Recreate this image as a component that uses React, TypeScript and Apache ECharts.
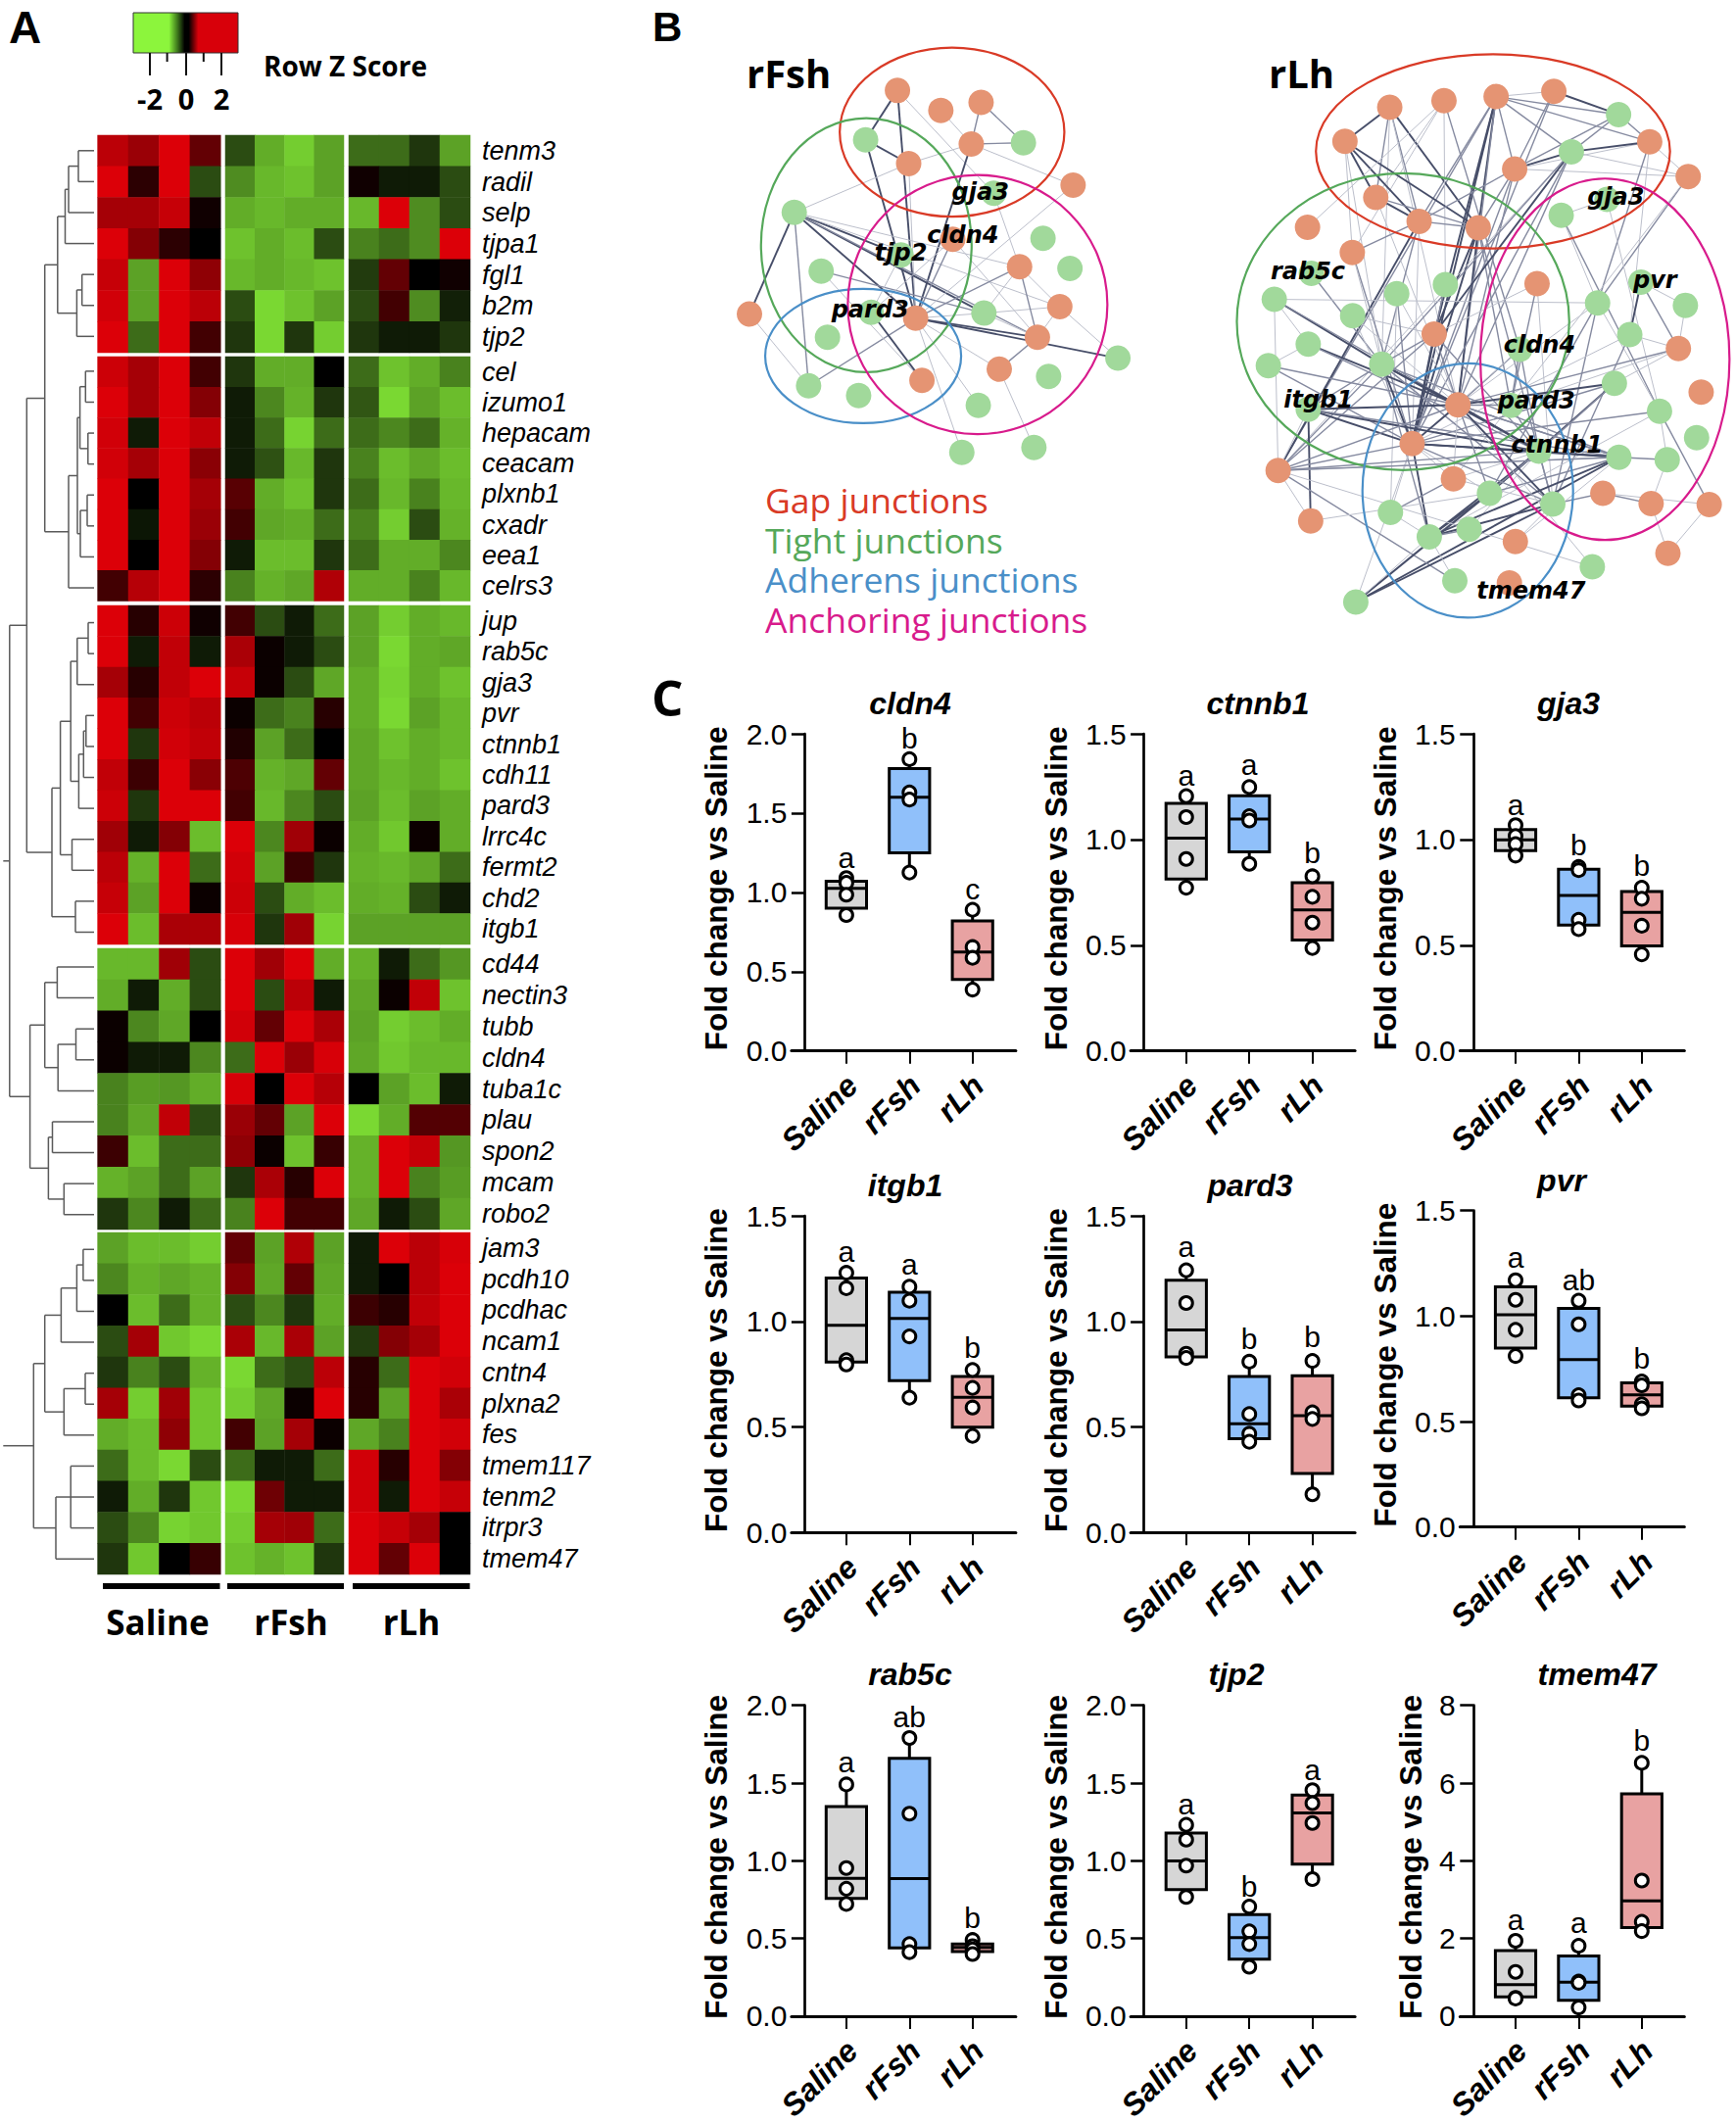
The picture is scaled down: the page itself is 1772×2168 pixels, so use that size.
import React, { useEffect, useRef } from "react";
import * as echarts from "echarts";

// ---------- Panel A data ----------
const geneBlocks = [
  ["tenm3", "radil", "selp", "tjpa1", "fgl1", "b2m", "tjp2"],
  ["cel", "izumo1", "hepacam", "ceacam", "plxnb1", "cxadr", "eea1", "celrs3"],
  ["jup", "rab5c", "gja3", "pvr", "ctnnb1", "cdh11", "pard3", "lrrc4c", "fermt2", "chd2", "itgb1"],
  ["cd44", "nectin3", "tubb", "cldn4", "tuba1c", "plau", "spon2", "mcam", "robo2"],
  ["jam3", "pcdh10", "pcdhac", "ncam1", "cntn4", "plxna2", "fes", "tmem117", "tenm2", "itrpr3", "tmem47"],
];
const zBlock1 = [
  [1.7, 1.4, 2, 0.9, -0.7, -1.6, -1.9, -1.5, -1, -1, -0.5, -1.5],
  [2, 0.4, 2, -0.7, -1.3, -1.7, -1.8, -1.5, 0.15, -0.25, -0.25, -0.7],
  [1.5, 1.5, 1.8, 0.15, -1.6, -1.7, -1.6, -1.6, -1.7, 2, -1.3, -0.7],
  [2, 1.2, 0.4, 0, -1.8, -1.6, -1.75, -0.7, -1.2, -1, -1.3, 2],
  [1.8, -1.5, 2, 1.3, -1.7, -1.6, -1.7, -1.8, -0.55, 0.9, 0, 0.15],
  [1.9, -1.5, 2, 1.7, -0.7, -2, -1.8, -1.5, -0.7, 0.6, -1.3, -0.3],
  [2, -1, 2, 0.6, -0.5, -2, -0.5, -1.9, -0.5, -0.25, -0.25, -0.5],
];
const zBlock2 = [
  [1.85, 1.5, 2, 0.6, -0.5, -1.6, -1.6, 0, -1, -1.8, -1.6, -1.2],
  [2, 1.5, 2, 1.2, -0.25, -1.25, -1.65, -0.5, -0.8, -2, -1.5, -1.75],
  [1.9, -0.25, 2, 1.75, -0.25, -1, -1.95, -1, -1, -1.25, -1, -1.65],
  [1.9, 1.5, 2, 1.25, -0.25, -0.75, -1.7, -0.5, -1.2, -1.75, -1.55, -1.75],
  [2, 0, 2, 1.5, 0.8, -1.6, -1.8, -0.5, -1, -1.7, -1.2, -1.7],
  [2, -0.2, 2, 1.4, 0.6, -1.55, -1.6, -1, -1.2, -1.9, -0.7, -1.65],
  [2, 0, 2, 1.2, -0.25, -1.75, -1.75, -0.5, -1, -1.6, -1.6, -1.25],
  [0.6, 1.65, 2, 0.4, -1.2, -1.65, -1.55, 1.6, -1.6, -1.6, -1.2, -1.7],
];
const zBlock3 = [
  [2, 0.35, 1.85, 0.15, 0.6, -0.7, -0.25, -1, -1.5, -1.9, -1.6, -1.7],
  [2, -0.25, 1.75, -0.25, 1.55, 0.1, -0.25, -0.7, -1.5, -2, -1.6, -1.55],
  [1.5, 0.35, 1.75, 2, 1.8, 0.1, -0.7, -1.55, -1.6, -1.95, -1.6, -1.8],
  [2, 0.6, 1.85, 1.7, 0.1, -1, -1.2, 0.35, -1.6, -2, -1.5, -1.7],
  [2, -0.5, 1.9, 1.75, 0.3, -1.5, -1, 0, -1.55, -1.8, -1.6, -1.7],
  [1.75, 0.55, 2, 1.25, 0.7, -1.65, -1.55, 0.9, -1.55, -1.7, -1.6, -1.8],
  [1.85, -0.5, 2, 2, 0.6, -1.7, -1.25, -0.7, -1.5, -1.75, -1.5, -1.6],
  [1.45, -0.25, 1.2, -1.75, 2, -1.25, 1.45, 0.1, -1.6, -1.85, 0.1, -1.6],
  [1.7, -1.65, 2, -1, 1.9, -1.5, 0.55, -0.5, -1.65, -1.7, -1.55, -1],
  [1.8, -1.5, 2, 0.1, 1.85, -0.7, -1.6, -1.75, -1.6, -1.65, -0.7, -0.25],
  [2, -1.75, 1.55, 1.55, 1.95, -0.5, 1.45, -1.95, -1.5, -1.5, -1.5, -1.5],
];
const zBlock4 = [
  [-1.7, -1.7, 1.45, -0.7, 2, 1.45, 2, -1.6, -1.65, -0.25, -1, -1.4],
  [-1.6, -0.25, -1.6, -0.7, 2, -0.7, 1.7, -0.25, -1.55, 0.1, 1.75, -1.8],
  [0.1, -1.25, -1.55, 0, 1.9, 0.9, 2, 1.55, -1.5, -1.9, -1.75, -1.6],
  [0.1, -0.25, -0.25, -1.25, -1, 2, 1.4, 1.95, -1.55, -1.85, -1.7, -1.7],
  [-1.2, -1.45, -1.4, -1.6, 1.95, 0, 2, 1.65, 0, -1.5, -1.75, -0.25],
  [-1.2, -1.55, 1.75, -0.7, 1.4, 0.9, -1.5, 2, -2, -1.6, 0.75, 0.75],
  [0.55, -1.75, -1, -1, 1.3, 0.1, -1.8, 0.5, -1.65, 2, 1.8, -1.4],
  [-1.65, -1.5, -1, -1.5, -0.5, 1.55, 0.35, 2, -1.65, 2, -1.2, -1.45],
  [-0.5, -1.25, -0.25, -1, -1.2, 2, 0.6, 0.6, -1.55, -0.25, -0.7, -1.55],
];
const zBlock5 = [
  [-1.5, -1.75, -1.75, -1.9, 0.9, -1.5, 1.6, -1.5, -0.25, 2, 1.7, 1.95],
  [-1.25, -1.65, -1.55, -1.65, 1.2, -1.55, 0.9, -1.55, -0.25, 0, 1.7, 2],
  [0, -1.75, -1, -1.65, -0.7, -1.25, -0.5, -1.6, 0.55, 0.35, 1.75, 2],
  [-0.7, 1.5, -1.85, -2, 1.55, -1.7, 1.55, -1.5, -0.55, 1.2, 1.5, 2],
  [-0.5, -1.2, -0.7, -1.65, -2, -1, -0.7, 1.7, 0.35, -1, 2, 1.9],
  [1.5, -1.9, 1.45, -1.85, -1.9, -1.55, 0.1, 2, 0.35, -1.5, 2, 1.55],
  [-1.6, -1.75, 1.3, -1.85, 0.6, -1.5, 1.5, 0.1, -1.55, -1.2, 2, 1.9],
  [-1, -1.75, -2, -0.7, -1, -0.25, -0.25, -1, 1.9, 0.35, 2, 1.2],
  [-0.25, -1.6, -0.5, -1.85, -2, 1, -0.25, -0.25, 1.9, -0.25, 2, 1.8],
  [-0.7, -1.25, -1.95, -1.85, -1.9, 1.5, 1.45, -1, 2, 1.8, 1.5, 0],
  [-0.5, -1.85, 0, 0.5, -1.8, -1.65, -1.8, -0.5, 2, 0.9, 2, 0],
];
const zBlocks = [zBlock1, zBlock2, zBlock3, zBlock4, zBlock5];

// dendrogram: [merge depth, child, child...]; a number child is a row index
const tree1: any = [58.8, [66.5, [70, [80, 0, 1], 2], 3], [78.4, [83.7, 4, 5], 6]];
const tree2: any = [70, [79, [81.6, [87.3, 7, 8], [89.8, 9, 10]], [82, [89, 11, 12], 13]], 14];
const tree3: any = [53, [61.6, [72.2, [78.8, [90, 15, 16], 17], [80.4, [85.3, [87.8, 18, 19], 20], 21]], [73.5, 22, 23]], [77, 24, 25]];
const tree4: any = [30.6, [45.7, [58.4, 26, 27], [59.2, [77.5, 28, 29], 30]], [49.4, [53.5, 31, 32], [65.3, 33, 34]]];
const tree5: any = [34.3, [45.7, [62.4, [78.4, [84.9, 35, 36], 37], 38], [65.3, [87, 39, 40], 41]], [57, [72.2, 42, 43, 44], 45]];
const treeTop: any = [9.8, [27.3, [45.7, tree1, tree2], tree3], tree4];
const rootDepth = 3.3;
const leafDepth = 96;

// ---------- Panel B data ----------
const rFshOrange = [[745, 213], [869, 260], [984, 241], [956, 339], [777, 385], [1247, 436], [903, 563], [1094, 628], [1209, 722], [797, 749], [1145, 794], [1036, 869], [815, 895], [322, 739]];
const rFshGreen = [[1105, 336], [654, 329], [450, 500], [1020, 455], [1161, 561], [1238, 632], [527, 638], [755, 600], [670, 735], [992, 737], [545, 794], [491, 908], [634, 931], [976, 954], [1177, 886], [1375, 843], [929, 1065], [1135, 1053]];
const rFshEdges = [
  [0, 15, 3], [0, 9, 3], [0, 17, 1], [15, 4, 3], [15, 9, 3], [4, 3, 1], [4, 9, 1], [1, 3, 1], [2, 3, 2], [2, 14, 2], [3, 14, 2], [3, 5, 1], [3, 9, 3],
  [16, 4, 1], [16, 9, 3], [16, 21, 3], [16, 23, 3], [16, 10, 2], [16, 8, 1], [16, 7, 1], [16, 13, 3], [16, 25, 2], [13, 25, 1], [25, 9, 2], [20, 23, 2], [20, 12, 1],
  [22, 12, 3], [21, 22, 1], [6, 22, 1], [6, 9, 2], [6, 10, 1], [5, 9, 1], [9, 7, 2], [9, 10, 3], [9, 29, 3], [9, 23, 1], [23, 8, 1], [23, 10, 1], [7, 10, 2], [7, 8, 1],
  [8, 10, 1], [8, 29, 1], [10, 11, 2], [11, 31, 1], [9, 30, 1], [9, 27, 1], [9, 11, 1], [17, 7, 1], [7, 23, 1],
];
const rFshEllipses = [[901, 311, 321, 199], [656, 577, 301, 299], [647, 838, 280, 158], [974, 717, 371, 305]];
const rFshLabels: any[] = [["gja3", 982, 452], ["cldn4", 932, 553], ["tjp2", 755, 594], ["pard3", 667, 729]];

const rLhOrange = [[584, 195], [739, 178], [888, 168], [1053, 155], [456, 280], [1327, 281], [941, 349], [1437, 368], [544, 420], [668, 480], [837, 496], [349, 495], [477, 558], [1005, 636], [711, 762], [1409, 798], [779, 939], [1474, 907], [648, 1036], [265, 1103], [766, 1124], [1193, 1160], [1331, 1186], [1497, 1188], [358, 1229], [943, 1281], [1379, 1310], [926, 1384]];
const rLhGreen = [[1238, 213], [1103, 306], [1074, 465], [1205, 425], [360, 610], [254, 675], [478, 716], [604, 661], [743, 638], [1178, 684], [1302, 632], [1429, 690], [1270, 763], [351, 787], [237, 841], [561, 837], [956, 800], [1226, 885], [1355, 955], [351, 950], [930, 940], [1461, 1021], [1010, 1055], [1239, 1070], [1377, 1076], [869, 1160], [1050, 1187], [586, 1208], [811, 1250], [697, 1269], [1163, 1344], [770, 1379], [487, 1432]];
const rLhEdges = [
  [2, 3, 1], [2, 28, 2], [2, 5, 2], [2, 29, 2], [2, 6, 2], [2, 10, 3], [2, 9, 2], [2, 14, 3], [2, 18, 3], [2, 16, 2], [2, 19, 2], [3, 28, 3], [3, 6, 2], [3, 18, 2],
  [0, 4, 3], [0, 8, 2], [0, 10, 3], [0, 9, 2], [0, 16, 1], [0, 43, 1], [1, 12, 1], [1, 8, 1], [1, 44, 2], [1, 36, 1], [4, 8, 3], [4, 9, 3], [4, 10, 3], [4, 12, 1], [4, 43, 1],
  [8, 9, 3], [8, 10, 2], [8, 16, 1], [9, 10, 2], [9, 6, 2], [9, 12, 2], [9, 19, 3], [9, 43, 2], [9, 18, 1], [10, 6, 2], [10, 14, 3], [10, 18, 3], [10, 16, 3], [10, 48, 2], [10, 54, 2],
  [6, 29, 3], [6, 28, 2], [6, 5, 1], [6, 7, 1], [6, 16, 2], [6, 18, 2], [29, 28, 2], [29, 5, 3], [29, 7, 1], [29, 14, 3], [29, 18, 2], [29, 16, 2], [29, 19, 1], [29, 43, 2],
  [5, 7, 1], [5, 28, 2], [5, 40, 1], [5, 37, 2], [7, 37, 2], [7, 20, 1], [30, 31, 1], [30, 37, 1], [30, 46, 2], [31, 46, 1], [11, 1, 1], [12, 18, 2], [12, 43, 1],
  [32, 43, 2], [33, 43, 3], [33, 37, 1], [33, 19, 1], [33, 16, 2], [33, 41, 1], [34, 16, 1], [34, 14, 1], [34, 18, 1], [35, 18, 2], [35, 16, 1], [35, 55, 1], [36, 18, 3], [36, 14, 2],
  [37, 53, 2], [37, 54, 2], [37, 46, 1], [37, 16, 1], [38, 40, 3], [38, 39, 1], [38, 15, 2], [39, 15, 1], [40, 18, 1], [40, 54, 2], [40, 15, 1], [41, 42, 1], [41, 16, 3], [41, 50, 2], [42, 16, 2], [42, 18, 2],
  [43, 14, 2], [43, 16, 3], [43, 18, 3], [43, 50, 3], [43, 19, 2], [43, 47, 2], [43, 54, 2], [43, 57, 2], [43, 51, 2], [14, 13, 1], [14, 16, 2], [14, 18, 3], [14, 50, 2], [14, 19, 2],
  [13, 48, 2], [13, 54, 1], [15, 16, 2], [15, 45, 1], [15, 48, 1], [44, 50, 2], [44, 48, 2], [44, 16, 2], [44, 18, 1], [45, 16, 3], [45, 18, 2], [45, 53, 3], [45, 50, 2],
  [46, 18, 2], [46, 57, 1], [46, 52, 1], [46, 23, 2], [47, 16, 3], [47, 18, 3], [47, 50, 3], [47, 24, 3], [47, 51, 2], [47, 19, 1], [48, 50, 2], [48, 16, 2],
  [50, 18, 3], [50, 16, 3], [50, 53, 3], [50, 54, 2], [50, 57, 3], [50, 60, 2], [50, 56, 1], [50, 20, 1], [50, 51, 3], [51, 52, 2], [51, 18, 3], [51, 16, 2], [51, 57, 3], [51, 60, 3], [51, 53, 2], [51, 19, 1],
  [16, 18, 3], [16, 19, 2], [16, 20, 1], [16, 54, 3], [16, 53, 2], [16, 51, 2], [18, 19, 2], [18, 57, 3], [18, 20, 1], [18, 54, 2], [18, 53, 1], [18, 55, 1], [18, 60, 1],
  [19, 24, 1], [19, 51, 2], [19, 59, 2], [19, 50, 2], [20, 55, 2], [20, 54, 1], [53, 57, 3], [53, 60, 3], [54, 60, 3], [54, 57, 3], [54, 25, 1], [54, 21, 2], [21, 22, 2], [21, 23, 1],
  [22, 52, 1], [22, 26, 1], [23, 26, 1], [24, 53, 1], [25, 51, 1], [55, 57, 1], [56, 57, 2], [57, 59, 1], [57, 60, 1], [58, 16, 1], [58, 19, 1],
];
const rLhEllipses = [[879, 305, 506, 243], [622, 731, 475, 371], [807, 1153, 301, 318], [1199, 825, 356, 452]];
const rLhLabels: any[] = [["gja3", 1230, 420], ["rab5c", 350, 605], ["pvr", 1342, 628], ["cldn4", 1012, 788], ["itgb1", 380, 925], ["pard3", 1003, 928], ["ctnnb1", 1062, 1040], ["tmem47", 988, 1405]];
const legendNames = ["Gap junctions", "Tight junctions", "Adherens junctions", "Anchoring junctions"];
const junctionColors = ["#d93a26", "#55a85a", "#4a8fc8", "#d81b8c"];

// ---------- Panel C data: [min, q1, median, q3, max] per group, points per group, letters ----------
const groups = ["Saline", "rFsh", "rLh"];
const cldn4Box = [[0.857, 0.9, 1.025, 1.07, 1.09], [1.125, 1.25, 1.6, 1.78, 1.84], [0.387, 0.45, 0.624, 0.82, 0.89]];
const cldn4Pts = [[1.09, 1.06, 0.985, 0.857], [1.84, 1.63, 1.585, 1.125], [0.89, 0.655, 0.587, 0.387]];
const cldn4Let: any[] = [["a", 1.217], ["b", 1.97], ["c", 1.02]];
const ctnnb1Box = [[0.772, 0.813, 1.006, 1.171, 1.205], [0.885, 0.942, 1.097, 1.207, 1.248], [0.487, 0.525, 0.667, 0.796, 0.826]];
const ctnnb1Pts = [[1.205, 1.106, 0.908, 0.772], [1.248, 1.11, 1.09, 0.885], [0.826, 0.729, 0.607, 0.487]];
const ctnnb1Let: any[] = [["a", 1.305], ["a", 1.353], ["b", 0.936]];
const gja3Box = [[0.924, 0.947, 0.998, 1.047, 1.068], [0.576, 0.595, 0.735, 0.859, 0.87], [0.457, 0.497, 0.655, 0.754, 0.772]];
const gja3Pts = [[1.068, 1.017, 0.978, 0.924], [0.87, 0.855, 0.62, 0.576], [0.772, 0.72, 0.592, 0.457]];
const gja3Let: any[] = [["a", 1.166], ["b", 0.973], ["b", 0.877]];
const itgb1Box = [[0.796, 0.807, 0.982, 1.205, 1.23], [0.639, 0.719, 1.014, 1.138, 1.164], [0.458, 0.499, 0.64, 0.739, 0.77]];
const itgb1Pts = [[1.23, 1.157, 0.816, 0.796], [1.164, 1.098, 0.929, 0.639], [0.77, 0.685, 0.592, 0.458]];
const itgb1Let: any[] = [["a", 1.331], ["a", 1.27], ["b", 0.874]];
const pard3Box = [[0.827, 0.832, 0.96, 1.195, 1.242], [0.43, 0.445, 0.515, 0.739, 0.809], [0.181, 0.28, 0.554, 0.742, 0.813]];
const pard3Pts = [[1.242, 1.087, 0.847, 0.827], [0.809, 0.561, 0.468, 0.43], [0.813, 0.569, 0.538, 0.181]];
const pard3Let: any[] = [["a", 1.353], ["b", 0.917], ["b", 0.925]];
const pvrBox = [[0.811, 0.848, 1.006, 1.139, 1.17], [0.6, 0.613, 0.794, 1.037, 1.073], [0.563, 0.573, 0.627, 0.684, 0.69]];
const pvrPts = [[1.17, 1.077, 0.935, 0.811], [1.073, 0.961, 0.625, 0.6], [0.69, 0.672, 0.582, 0.563]];
const pvrLet: any[] = [["a", 1.279], ["ab", 1.173], ["b", 0.802]];
const rab5cBox = [[0.722, 0.757, 0.887, 1.348, 1.491], [0.412, 0.439, 0.885, 1.66, 1.79], [0.4, 0.416, 0.443, 0.464, 0.49]];
const rab5cPts = [[1.491, 0.953, 0.82, 0.722], [1.79, 1.303, 0.464, 0.412], [0.49, 0.45, 0.43, 0.4]];
const rab5cLet: any[] = [["a", 1.633], ["ab", 1.928], ["b", 0.635]];
const tjp2Box = [[0.767, 0.814, 0.998, 1.179, 1.231], [0.318, 0.367, 0.505, 0.654, 0.705], [0.882, 0.979, 1.307, 1.423, 1.454]];
const tjp2Pts = [[1.231, 1.136, 0.969, 0.767], [0.705, 0.546, 0.464, 0.318], [1.454, 1.371, 1.243, 0.882]];
const tjp2Let: any[] = [["a", 1.365], ["b", 0.835], ["a", 1.588]];
const tmem47Box = [[0.454, 0.495, 0.808, 1.69, 1.94], [0.223, 0.41, 0.874, 1.55, 1.81], [2.19, 2.28, 2.97, 5.72, 6.52]];
const tmem47Pts = [[1.94, 1.138, 0.47, 0.454], [1.81, 0.89, 0.86, 0.223], [6.52, 3.49, 2.43, 2.19]];
const tmem47Let: any[] = [["a", 2.47], ["a", 2.41], ["b", 7.09]];

const panels = [
  { gene: "cldn4", box: cldn4Box, pts: cldn4Pts, letters: cldn4Let, max: 2, step: 0.5 },
  { gene: "ctnnb1", box: ctnnb1Box, pts: ctnnb1Pts, letters: ctnnb1Let, max: 1.5, step: 0.5 },
  { gene: "gja3", box: gja3Box, pts: gja3Pts, letters: gja3Let, max: 1.5, step: 0.5 },
  { gene: "itgb1", box: itgb1Box, pts: itgb1Pts, letters: itgb1Let, max: 1.5, step: 0.5 },
  { gene: "pard3", box: pard3Box, pts: pard3Pts, letters: pard3Let, max: 1.5, step: 0.5 },
  { gene: "pvr", box: pvrBox, pts: pvrPts, letters: pvrLet, max: 1.5, step: 0.5 },
  { gene: "rab5c", box: rab5cBox, pts: rab5cPts, letters: rab5cLet, max: 2, step: 0.5 },
  { gene: "tjp2", box: tjp2Box, pts: tjp2Pts, letters: tjp2Let, max: 2, step: 0.5 },
  { gene: "tmem47", box: tmem47Box, pts: tmem47Pts, letters: tmem47Let, max: 8, step: 2 },
];

// ---------- Layout ----------
const W = 1772, H = 2168;
const blockEdges = [[138, 360], [364, 613.5], [618, 964], [968, 1255], [1258, 1607]];
const colEdges = [[99.6, 225.3], [230, 351], [356, 480]];
const plotAxisX = [821.4, 1167.6, 1503.8];
const plotCatX = [863.9, 1210.8, 1547];
const plotTB = [[749, 1072.7], [749, 1072.7], [749, 1072.7], [1241, 1564.3], [1241, 1564.3], [1235.7, 1558.7], [1740.7, 2063.3], [1740.7, 2063.3], [1740.7, 2063.3]];
const titlePos = [[929, 718], [1284, 718], [1601, 718], [924, 1210], [1276, 1210], [1594, 1205], [929, 1709], [1262, 1709], [1630, 1709]];
const boxFills = ["#d6d6d6", "#90c0fa", "#e8a2a2"];
const ARIAL = '"Liberation Sans"';
const SANS = '"Open Sans"';

function buildDendrogram() {
  const segs: number[][] = [];
  const gapAt = [7, 15, 26, 35];
  const rowY = (i: number) => i + 0.5 + 0.125 * gapAt.filter((g) => i >= g).length;
  const walk = (n: any): { d: number; y: number } => {
    if (typeof n === "number") return { d: leafDepth, y: rowY(n) };
    const kids = n.slice(1).map(walk);
    const ys = kids.map((k: any) => k.y);
    const a = Math.min(...ys), b = Math.max(...ys);
    kids.forEach((k: any) => segs.push([n[0], k.y, k.d, k.y]));
    segs.push([n[0], a, n[0], b]);
    return { d: n[0], y: (a + b) / 2 };
  };
  [treeTop, tree5].forEach((t) => {
    const r = walk(t);
    segs.push([rootDepth, r.y, r.d, r.y]);
  });
  return segs;
}

function buildOption() {
  const grid: any[] = [], xAxis: any[] = [], yAxis: any[] = [], series: any[] = [];
  const heatIdx: number[] = [];

  // ---- heatmap blocks ----
  zBlocks.forEach((rows, b) => {
    colEdges.forEach((ce, c) => {
      const gi = grid.length;
      grid.push({ left: ce[0], width: ce[1] - ce[0], top: blockEdges[b][0], height: blockEdges[b][1] - blockEdges[b][0] });
      xAxis.push({ gridIndex: gi, type: "category", show: false, data: [0, 1, 2, 3] });
      yAxis.push(c === 2
        ? {
            gridIndex: gi, type: "category", inverse: true, position: "right", data: geneBlocks[b],
            axisLine: { show: false }, axisTick: { show: false }, splitLine: { show: false },
            axisLabel: { show: true, interval: 0, margin: 12, color: "#000", fontStyle: "italic", fontFamily: ARIAL, fontSize: 27, lineHeight: 27 },
          }
        : { gridIndex: gi, type: "category", inverse: true, show: false, data: geneBlocks[b] });
      const data: number[][] = [];
      rows.forEach((r, ri) => { for (let k = 0; k < 4; k++) data.push([k, ri, r[c * 4 + k]]); });
      heatIdx.push(series.length);
      series.push({ type: "heatmap", xAxisIndex: gi, yAxisIndex: gi, data, silent: true, progressive: 0 });
    });
  });

  // ---- dendrogram ----
  {
    const gi = grid.length;
    grid.push({ left: 0, width: 96, top: 138, height: 1607 - 138 });
    xAxis.push({ gridIndex: gi, type: "value", show: false, min: 0, max: 96 });
    yAxis.push({ gridIndex: gi, type: "value", show: false, inverse: true, min: 0, max: 46.5 });
    series.push({
      type: "custom", xAxisIndex: gi, yAxisIndex: gi, silent: true, clip: false, data: buildDendrogram(),
      encode: { x: [0, 2], y: [1, 3] },
      renderItem: (_p: any, api: any) => {
        const a = api.coord([api.value(0), api.value(1)]);
        const b = api.coord([api.value(2), api.value(3)]);
        return { type: "line", shape: { x1: a[0], y1: a[1], x2: b[0], y2: b[1] }, style: { stroke: "#5a5a5a", lineWidth: 1.5, fill: "none" } };
      },
    });
  }

  // ---- networks ----
  const edgeStyle = [null,
    { color: "#bcbfcb", width: 1, opacity: 1 },
    { color: "#858aa0", width: 1.4, opacity: 1 },
    { color: "#474e69", width: 1.9, opacity: 1 }];
  const network = (box: number[], orange: number[][], green: number[][], edges: number[][], ellipses: number[][], labels: any[]) => {
    const gi = grid.length;
    grid.push({ left: box[0], top: box[1], width: box[2], height: box[3] });
    xAxis.push({ gridIndex: gi, type: "value", show: false, min: 0, max: 1568 });
    yAxis.push({ gridIndex: gi, type: "value", show: false, inverse: true, min: 0, max: 1568 });
    const nodes = [
      ...orange.map((p, i) => ({ name: "o" + i, value: p, itemStyle: { color: "#e59473" } })),
      ...green.map((p, i) => ({ name: "g" + i, value: p, itemStyle: { color: "#a1d99b" } })),
    ];
    series.push({
      type: "graph", coordinateSystem: "cartesian2d", xAxisIndex: gi, yAxisIndex: gi, layout: "none", silent: true,
      symbol: "circle", symbolSize: 26, data: nodes, label: { show: false },
      links: edges.map((e) => ({ source: e[0], target: e[1], lineStyle: edgeStyle[e[2]] })),
    });
    series.push({
      type: "custom", xAxisIndex: gi, yAxisIndex: gi, silent: true, clip: false, data: ellipses, encode: { x: 0, y: 1 },
      renderItem: (p: any, api: any) => {
        const c = api.coord([api.value(0), api.value(1)]);
        const s = api.size([api.value(2), api.value(3)]);
        return { type: "ellipse", shape: { cx: c[0], cy: c[1], rx: s[0], ry: s[1] }, style: { fill: "none", stroke: junctionColors[p.dataIndex], lineWidth: 2.2 } };
      },
    });
    series.push({
      type: "scatter", xAxisIndex: gi, yAxisIndex: gi, silent: true, symbolSize: 1, itemStyle: { color: "transparent", opacity: 1 }, z: 5,
      data: labels.map((l) => ({ name: l[0], value: [l[1], l[2]] })),
      label: {
        show: true, position: "inside", formatter: "{b}", color: "#000", opacity: 1, textBorderWidth: 0, textBorderColor: "transparent",
        fontFamily: '"DejaVu Sans"', fontWeight: "bold", fontStyle: "italic", fontSize: 24,
      },
    });
  };
  network([650, 0, 560, 680], rFshOrange, rFshGreen, rFshEdges, rFshEllipses, rFshLabels);
  network([1210, 30, 560, 640], rLhOrange, rLhGreen, rLhEdges, rLhEllipses, rLhLabels);

  // ---- box plots ----
  const graphics: any[] = [];
  const spacing = 64.4;
  panels.forEach((p, i) => {
    const gi = grid.length;
    const axX = plotAxisX[i % 3], cat0 = plotCatX[i % 3];
    const [top, bottom] = plotTB[i];
    const left = axX - 13.5, width = 229;
    grid.push({ left, top, width, height: bottom - top });
    xAxis.push({
      gridIndex: gi, type: "value", min: -(cat0 - left) / spacing, max: (left + width - cat0) / spacing,
      axisLine: { show: true, onZero: false, lineStyle: { color: "#000", width: 3 } },
      splitLine: { show: false },
      axisTick: { show: true, length: 13, customValues: [0, 1, 2], lineStyle: { color: "#000", width: 2 } },
      axisLabel: {
        show: true, customValues: [0.09, 1.09, 2.09], rotate: 45, margin: 30, color: "#000", fontFamily: ARIAL, fontWeight: "bold", fontStyle: "italic", fontSize: 32,
        formatter: (v: number) => groups[Math.round(v)],
      },
    });
    yAxis.push({
      gridIndex: gi, type: "value", min: 0, max: p.max, interval: p.step, offset: -13.5,
      name: "Fold change vs Saline", nameLocation: "middle", nameRotate: 90, nameGap: p.gene === "tmem47" ? 48 : 74,
      nameTextStyle: { color: "#000", fontFamily: ARIAL, fontWeight: "bold", fontSize: 31.5, padding: [0, 0, 0, 8] },
      axisLine: { show: true, onZero: false, lineStyle: { color: "#000", width: 2.7 } },
      splitLine: { show: false },
      axisTick: { show: true, length: 13.5, lineStyle: { color: "#000", width: 2.5 } },
      axisLabel: { color: "#000", margin: 18, fontFamily: ARIAL, fontSize: 30, formatter: (v: number) => (p.step === 2 ? String(v) : v.toFixed(1)) },
    });
    series.push({
      type: "custom", xAxisIndex: gi, yAxisIndex: gi, silent: true, clip: false,
      data: p.box.map((b, k) => [k, ...b]), encode: { x: 0, y: [1, 2, 3, 4, 5] },
      renderItem: (q: any, api: any) => {
        const x = api.value(0);
        const c = (xx: number, v: number) => api.coord([xx, v]);
        const hw = 0.32;
        const l = c(x - hw, api.value(4)), r = c(x + hw, api.value(2));
        const lo = c(x, api.value(1)), q1 = c(x, api.value(2)), m = c(x, api.value(3)), q3 = c(x, api.value(4)), hi = c(x, api.value(5));
        const st = { stroke: "#000", lineWidth: 3, fill: "none" };
        return {
          type: "group",
          children: [
            { type: "line", shape: { x1: hi[0], y1: hi[1], x2: q3[0], y2: q3[1] }, style: st },
            { type: "line", shape: { x1: lo[0], y1: lo[1], x2: q1[0], y2: q1[1] }, style: st },
            { type: "rect", shape: { x: l[0], y: l[1], width: r[0] - l[0], height: r[1] - l[1] }, style: { stroke: "#000", lineWidth: 3, fill: boxFills[q.dataIndex] } },
            { type: "line", shape: { x1: l[0], y1: m[1], x2: r[0], y2: m[1] }, style: st },
          ],
        };
      },
    });
    series.push({
      type: "scatter", xAxisIndex: gi, yAxisIndex: gi, silent: true, symbol: "circle", symbolSize: 13,
      itemStyle: { color: "#fff", borderColor: "#000", borderWidth: 3, opacity: 1 },
      data: p.pts.flatMap((arr, k) => arr.map((v) => [k, v])),
    });
    series.push({
      type: "scatter", xAxisIndex: gi, yAxisIndex: gi, silent: true, symbolSize: 1, itemStyle: { color: "transparent", opacity: 1 },
      data: p.letters.map((l, k) => ({ name: l[0], value: [k, l[1]] })),
      label: { show: true, position: "inside", formatter: "{b}", color: "#000", opacity: 1, textBorderWidth: 0, textBorderColor: "transparent", fontFamily: ARIAL, fontSize: 30 },
    });
    graphics.push({
      type: "text", x: titlePos[i][0], y: titlePos[i][1],
      style: { text: p.gene, fill: "#000", font: `italic bold 32px ${ARIAL}`, textAlign: "center", textVerticalAlign: "middle" },
    });
  });

  // ---- texts and key ----
  const txt = (text: string, x: number, y: number, font: string, fill = "#000", textAlign = "left") => ({
    type: "text", x, y, style: { text, font, fill, textAlign, textVerticalAlign: "middle" },
  });
  graphics.push(
    txt("A", 9, 28, `bold 46px ${ARIAL}`),
    txt("B", 666, 27, `bold 42px ${ARIAL}`),
    txt("C", 665, 711, `bold 51px ${SANS}`),
    {
      type: "rect", shape: { x: 136, y: 13, width: 107, height: 41 },
      style: {
        stroke: "#333", lineWidth: 1,
        fill: new (echarts as any).graphic.LinearGradient(0, 0, 1, 0, [
          { offset: 0, color: "#8cf53c" }, { offset: 0.34, color: "#8cf53c" }, { offset: 0.42, color: "#3f7a1c" },
          { offset: 0.49, color: "#000" }, { offset: 0.53, color: "#000" }, { offset: 0.62, color: "#d8000a" }, { offset: 1, color: "#d8000a" },
        ]),
      },
    },
    ...[[153, 77], [170.6, 63], [190, 77], [207.8, 63], [226, 77]].map((t) => ({
      type: "line", shape: { x1: t[0], y1: 54, x2: t[0], y2: t[1] }, style: { stroke: "#111", lineWidth: 2 },
    })),
    txt("-2", 153, 100, `bold 29px ${SANS}`, "#000", "center"),
    txt("0", 190, 100, `bold 29px ${SANS}`, "#000", "center"),
    txt("2", 226, 100, `bold 29px ${SANS}`, "#000", "center"),
    txt("Row Z Score", 269, 67, `bold 28px ${SANS}`),
    ...[[105, 224.5], [232, 351], [360, 479.6]].map((b) => ({
      type: "rect", shape: { x: b[0], y: 1616, width: b[1] - b[0], height: 6 }, style: { fill: "#000" },
    })),
    txt("Saline", 161, 1655, `bold 35px ${SANS}`, "#000", "center"),
    txt("rFsh", 297, 1655, `bold 35px ${SANS}`, "#000", "center"),
    txt("rLh", 420, 1655, `bold 35px ${SANS}`, "#000", "center"),
    txt("rFsh", 762, 74, `bold 40px ${SANS}`),
    txt("rLh", 1295, 74, `bold 40px ${SANS}`),
    ...legendNames.map((n, i) => txt(n, 781, [510, 551, 591, 632][i], `35.5px ${SANS}`, junctionColors[i])),
  );

  return {
    animation: false,
    backgroundColor: "#fff",
    grid, xAxis, yAxis, series,
    visualMap: { type: "continuous", show: false, min: -2, max: 2, dimension: 2, seriesIndex: heatIdx, inRange: { color: ["#7ad832", "#000000", "#dc0008"] } },
    graphic: graphics,
  };
}

export default function App() {
  const ref = useRef<HTMLDivElement>(null);
  useEffect(() => {
    const chart = echarts.init(ref.current!, undefined, { renderer: "svg" });
    chart.setOption(buildOption() as any);
    return () => chart.dispose();
  }, []);
  return <div ref={ref} style={{ position: "absolute", left: 0, top: 0, width: W, height: H }} />;
}
